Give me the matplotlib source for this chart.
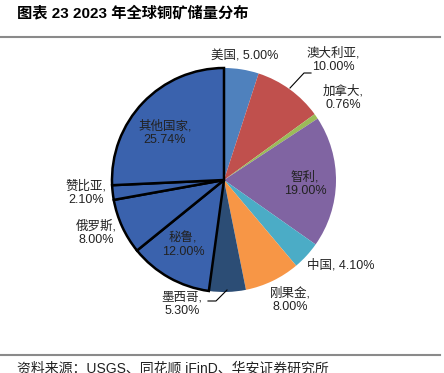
import matplotlib
matplotlib.use("Agg")
import matplotlib.pyplot as plt
from matplotlib.lines import Line2D

plt.rcParams['font.family'] = ['Liberation Sans', 'Noto Sans CJK SC', 'DejaVu Sans']

# ====================== 数据 ======================
countries = ["美国", "澳大利亚", "加拿大", "智利", "中国", "刚果金",
             "墨西哥", "秘鲁", "俄罗斯", "赞比亚", "其他国家"]
shares = [5.00, 10.00, 0.76, 19.00, 4.10, 8.00, 5.30, 12.00, 8.00, 2.10, 25.74]
colors = ["#4F81BD", "#C0504D", "#9BBB59", "#8064A2", "#4BACC6", "#F79646",
          "#2C4D75", "#3A62AD", "#3A62AD", "#3A62AD", "#3A62AD"]
outlined = ["秘鲁", "俄罗斯", "赞比亚", "其他国家"]

# 标签位置（图像像素坐标）与是否换行
label_pos = {
    "美国": (245, 56, False),
    "澳大利亚": (333, 60, True),
    "加拿大": (343, 98, True),
    "智利": (305, 184, True),
    "中国": (341, 265, False),
    "刚果金": (290, 300, True),
    "墨西哥": (182, 304, True),
    "秘鲁": (183, 245, True),
    "俄罗斯": (96, 233, True),
    "赞比亚": (86, 193, True),
    "其他国家": (165, 133, True),
}

W, H = 444, 373
fig = plt.figure(figsize=(W / 100, H / 100), dpi=100)
ax = fig.add_axes([0, 0, 1, 1])

def Y(y):
    return H - y

cx, cy, R = 224, 180, 112
wedges, _ = ax.pie(shares, colors=colors, startangle=90, counterclock=False,
                   center=(cx, Y(cy)), radius=R,
                   wedgeprops=dict(linewidth=0))
for w, name in zip(wedges, countries):
    if name in outlined:
        w.set_edgecolor("black")
        w.set_linewidth(1.8)

for name, val in zip(countries, shares):
    x, y, wrap = label_pos[name]
    sep = ",\n" if wrap else ", "
    ax.text(x, Y(y), f"{name}{sep}{val:.2f}%", ha="center", va="center",
            fontsize=9, linespacing=1.2, color="#222222")

# 引导线
ax.add_line(Line2D([290, 304, 311], [Y(88), Y(73), Y(73)], color="black", lw=0.8))
ax.add_line(Line2D([208, 216, 227], [Y(301), Y(301), Y(290)], color="black", lw=0.8))

ax.set_xlim(0, W)
ax.set_ylim(0, H)
ax.set_aspect("auto")
ax.axis("off")

# 标题与分割线
fig.text(17 / W, 1 - 14 / H, "图表 23 2023 年全球铜矿储量分布", fontsize=11,
         fontweight="bold", ha="left", va="center", color="black")
fig.add_artist(Line2D([0, 440 / W], [1 - 37 / H, 1 - 37 / H], color="#8a8a8a", lw=1.5))
fig.add_artist(Line2D([0, 440 / W], [1 - 355 / H, 1 - 355 / H], color="#8a8a8a", lw=1.5))
fig.text(17 / W, 1 - 362 / H, "资料来源：USGS、同花顺 iFinD、华安证券研究所", fontsize=10,
         ha="left", va="top", color="#222222")

fig.savefig("out.png", dpi=100)
